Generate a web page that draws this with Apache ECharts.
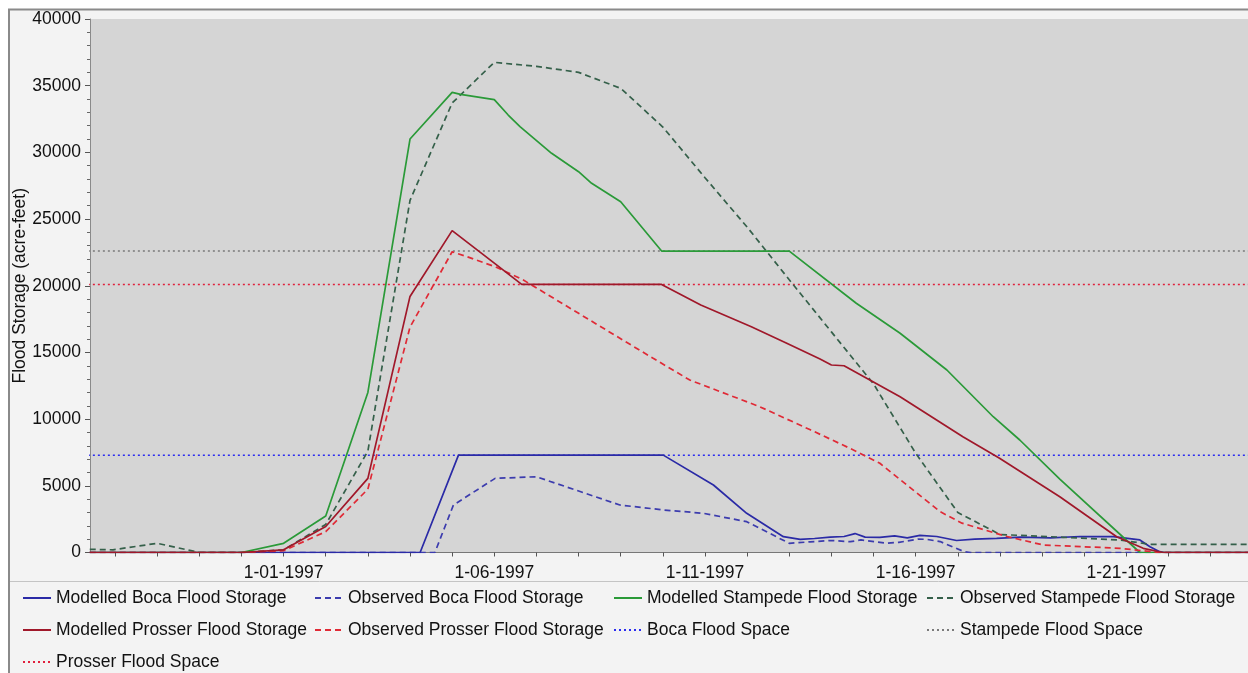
<!DOCTYPE html>
<html>
<head>
<meta charset="utf-8">
<script src="https://cdn.jsdelivr.net/npm/echarts@6/dist/echarts.min.js"></script>
<style>
  html, body { margin: 0; padding: 0; background: #ffffff; }
  #chart { width: 1248px; height: 673px; background: #f3f3f3; }
</style>
</head>
<body>
<div id="chart"></div>
<script>
// x values are days since 1 Jan 1997 00:00
const axisStartDay = -4.594
const axisEndDay = 22.886
const tickDays = [-4, -3, -2, -1, 0, 1, 2, 3, 4, 5, 6, 7, 8, 9, 10, 11, 12, 13, 14, 15, 16, 17, 18, 19, 20, 21, 22]
const labelDays = [0, 5, 10, 15, 20]

const bocaModDays = [-4.6, 3.24, 4.15, 9.01, 10.2, 10.99, 11.86, 12.26, 12.6, 12.97, 13.3, 13.56, 13.8, 14.15, 14.5, 14.8, 15.1, 15.5, 15.97, 16.4, 16.92, 17.5, 18.2, 18.9, 19.69, 20.32, 20.56, 20.79, 20.9, 22.9]
const bocaModVals = [0, 0, 7300, 7300, 5060, 2940, 1185, 990, 1050, 1150, 1200, 1420, 1150, 1140, 1250, 1100, 1280, 1200, 900, 1000, 1065, 1150, 1100, 1200, 1185, 940, 435, 60, 0, 0]

const bocaObsDays = [-4.6, 3.59, 4.03, 5.02, 6.0, 7.98, 9.01, 9.96, 10.99, 12.0, 12.5, 13.0, 13.45, 13.7, 14.3, 14.6, 15.05, 15.25, 15.58, 16.15, 16.3, 22.9]
const bocaObsVals = [0, 0, 3560, 5560, 5680, 3560, 3190, 2940, 2310, 690, 800, 900, 810, 940, 700, 760, 1000, 990, 820, 60, 0, 0]

const stampModDays = [-4.6, -1, 0, 1, 2, 3, 4, 4.2, 5, 5.33, 5.61, 6.36, 7.0, 7.31, 8.0, 8.97, 12.0, 13.59, 14.63, 15.74, 16.84, 17.47, 18.42, 20.32, 22.9]
const stampModVals = [0, 0, 690, 2740, 12000, 31000, 34500, 34350, 33950, 32800, 31930, 29930, 28550, 27680, 26300, 22600, 22600, 18690, 16436, 13684, 10180, 8435, 5500, 0, 0]

const stampObsDays = [-4.6, -4.05, -3.0, -2.0, -1.0, 0, 1, 2, 3, 4, 5, 6, 7, 8, 9, 10, 11, 12, 13, 14, 15, 16, 17, 18.5, 19.85, 20.56, 22.9]
const stampObsVals = [240, 200, 690, 0, 0, 200, 2100, 7600, 26400, 33700, 36750, 36450, 36000, 34800, 31900, 28100, 24400, 20450, 16540, 12640, 7440, 3000, 1350, 1140, 937, 615, 615]

const prosModDays = [-4.6, -1, 0, 1, 2, 3, 4, 5, 5.65, 8.97, 9.9, 11.1, 11.94, 12.73, 13.0, 13.3, 14.63, 16.12, 16.99, 18.42, 19.77, 20.4, 20.87, 22.9]
const prosModVals = [0, 0, 200, 1950, 5560, 19200, 24130, 21700, 20100, 20100, 18560, 16930, 15690, 14500, 14060, 14000, 11680, 8680, 7060, 4180, 1185, 315, 0, 0]

const prosObsDays = [-4.6, -1, 0, 1, 2, 3, 4, 4.35, 5.02, 5.69, 8.77, 9.64, 11.3, 12.5, 13.44, 14.15, 15.58, 16.1, 17.1, 18.03, 19.85, 20.79, 22.9]
const prosObsVals = [0, 0, 135, 1560, 4750, 16900, 22550, 22180, 21430, 20430, 14560, 12930, 10930, 9200, 7810, 6690, 3060, 2200, 1250, 560, 315, 0, 0]

const bocaSpace = 7300
const stampSpace = 22600
const prosSpace = 20100

const DAY = 86400000
const t0 = Date.UTC(1997, 0, 1)
const pad = n => (n < 10 ? '0' : '') + n
function dayLabel(d) {
  const dt = new Date(t0 + Math.round(d) * DAY)
  return (dt.getUTCMonth() + 1) + '-' + pad(dt.getUTCDate()) + '-' + dt.getUTCFullYear()
}

const chart = echarts.init(document.getElementById('chart'))

function pairs(days, vals) {
  return days.map((d, i) => [d, vals[i]])
}
function flat(v) {
  return [[axisStartDay - 1, v], [axisEndDay + 1, v]]
}
function lineSeries(name, data, color, type, width) {
  return {
    name,
    type: 'line',
    data,
    symbol: 'none',
    animation: false,
    lineStyle: { color, width: width || 1.7, type: type || 'solid' },
    itemStyle: { color }
  }
}

const font = 'Liberation Sans'
function legendCol(left, names) {
  return {
    orient: 'vertical',
    left,
    top: 588,
    padding: 0,
    itemGap: 12,
    itemWidth: 28,
    itemHeight: 14,
    selectedMode: false,
    itemStyle: { opacity: 0 },
    data: names,
    textStyle: { fontFamily: font, fontSize: 17.5, color: '#111', lineHeight: 20 }
  }
}

chart.setOption({
  textStyle: { fontFamily: font },
  grid: {
    left: 90,
    right: 0,
    top: 19,
    bottom: 120.5,
    show: true,
    backgroundColor: '#d5d5d5',
    borderWidth: 0,
    outerBoundsMode: 'none'
  },
  graphic: [
    { type: 'rect', shape: { x: 0, y: 0, width: 1248, height: 9 }, style: { fill: '#ffffff' }, silent: true },
    { type: 'rect', shape: { x: 0, y: 0, width: 8, height: 673 }, style: { fill: '#ffffff' }, silent: true },
    { type: 'line', shape: { x1: 8, y1: 9.5, x2: 1248, y2: 9.5 }, style: { stroke: '#8a8a8a', lineWidth: 2 }, silent: true },
    { type: 'line', shape: { x1: 9, y1: 9, x2: 9, y2: 673 }, style: { stroke: '#8a8a8a', lineWidth: 2 }, silent: true },
    { type: 'line', shape: { x1: 10, y1: 581.5, x2: 1248, y2: 581.5 }, style: { stroke: '#c4c4c4', lineWidth: 1 }, silent: true }
  ],
  legend: [
    legendCol(22, ['Modelled Boca Flood Storage', 'Modelled Prosser Flood Storage', 'Prosser Flood Space']),
    legendCol(314, ['Observed Boca Flood Storage', 'Observed Prosser Flood Storage']),
    legendCol(613, ['Modelled Stampede Flood Storage', 'Boca Flood Space']),
    legendCol(926, ['Observed Stampede Flood Storage', 'Stampede Flood Space'])
  ],
  xAxis: {
    type: 'value',
    min: axisStartDay,
    max: axisEndDay,
    splitLine: { show: false },
    axisLine: { show: true, onZero: false, lineStyle: { color: '#777', width: 1 } },
    axisTick: {
      show: true,
      length: 4,
      lineStyle: { color: '#555' },
      customValues: tickDays
    },
    axisLabel: {
      customValues: labelDays,
      fontFamily: font,
      fontSize: 17.5,
      color: '#111',
      margin: 12,
      formatter: dayLabel
    }
  },
  yAxis: {
    type: 'value',
    min: 0,
    max: 40000,
    interval: 5000,
    name: 'Flood Storage (acre-feet)',
    nameLocation: 'middle',
    nameGap: 61,
    nameMoveOverlap: false,
    nameTextStyle: { fontFamily: font, fontSize: 17.5, color: '#111' },
    splitLine: { show: false },
    axisLine: { show: true, onZero: false, lineStyle: { color: '#8a8a8a' } },
    axisTick: { show: true, length: 5, lineStyle: { color: '#555' } },
    minorTick: { show: true, splitNumber: 5, length: 3, lineStyle: { color: '#666' } },
    axisLabel: { fontFamily: font, fontSize: 17.5, color: '#111', margin: 9, formatter: v => String(v) }
  },
  series: [
    lineSeries('Boca Flood Space', flat(bocaSpace), '#2a2cf0', [2, 3], 1.5),
    lineSeries('Stampede Flood Space', flat(stampSpace), '#7a7a7a', [2, 3], 1.5),
    lineSeries('Prosser Flood Space', flat(prosSpace), '#e0203c', [2, 3], 1.5),
    lineSeries('Observed Boca Flood Storage', pairs(bocaObsDays, bocaObsVals), '#3c3cae', [6, 4]),
    lineSeries('Modelled Boca Flood Storage', pairs(bocaModDays, bocaModVals), '#2a2aa6'),
    lineSeries('Observed Stampede Flood Storage', pairs(stampObsDays, stampObsVals), '#35604a', [6, 4]),
    lineSeries('Modelled Stampede Flood Storage', pairs(stampModDays, stampModVals), '#2a9a38'),
    lineSeries('Observed Prosser Flood Storage', pairs(prosObsDays, prosObsVals), '#e02a36', [6, 4]),
    lineSeries('Modelled Prosser Flood Storage', pairs(prosModDays, prosModVals), '#a0182a')
  ]
})
</script>
</body>
</html>
